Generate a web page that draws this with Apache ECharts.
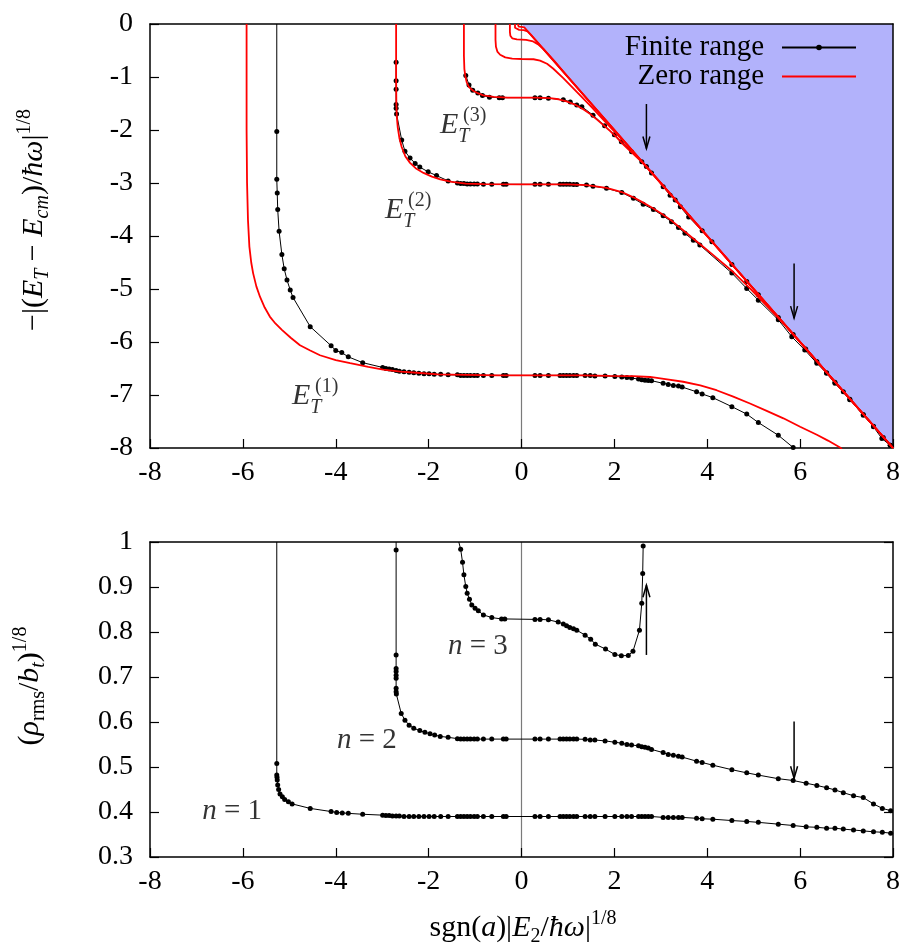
<!DOCTYPE html>
<html>
<head>
<meta charset="utf-8">
<script src="https://cdn.jsdelivr.net/npm/echarts@6.0.0/dist/echarts.min.js"></script>
<style>
  html, body { margin: 0; padding: 0; background: #fff; }
  #chart { width: 907px; height: 947px; }
</style>
</head>
<body>
<div id="chart"></div>
<script>
// ---------- axis ranges / ticks ----------
const xTicks = { min: -8, max: 8, step: 2 };
const energyTicks = { min: -8, max: 0, step: 1 };
const radiusTicks = { min: 0.3, max: 1.0, step: 0.1 };

// ---------- upper panel: -|(E_T - E_cm)/hw|^(1/8) ----------
// finite-range results (first point of n=1 sits on the upper frame edge)
const finiteEnergy1 = [
  [-5.27, 0], [-5.27, -2.03], [-5.27, -2.93], [-5.26, -3.19], [-5.25, -3.50], [-5.22, -3.91], [-5.16, -4.35],
  [-5.11, -4.62], [-5.05, -4.83], [-4.98, -5.02], [-4.92, -5.16], [-4.55, -5.71], [-4.10, -6.07], [-4.00, -6.16],
  [-3.87, -6.20], [-3.73, -6.28], [-3.42, -6.39], [-2.99, -6.48], [-2.92, -6.50], [-2.85, -6.51], [-2.78, -6.52],
  [-2.70, -6.54], [-2.63, -6.55], [-2.53, -6.56], [-2.42, -6.57], [-2.32, -6.58], [-2.21, -6.59], [-2.10, -6.60],
  [-1.99, -6.60], [-1.88, -6.61], [-1.74, -6.61], [-1.58, -6.62], [-1.38, -6.62], [-1.31, -6.63], [-1.24, -6.63],
  [-1.17, -6.63], [-1.10, -6.63], [-1.02, -6.63], [-0.95, -6.63], [-0.82, -6.63], [-0.64, -6.63], [-0.39, -6.63],
  [-0.33, -6.63], [0.29, -6.63], [0.40, -6.63], [0.58, -6.63], [0.83, -6.63], [0.90, -6.63], [0.97, -6.63],
  [1.04, -6.63], [1.12, -6.63], [1.19, -6.63], [1.37, -6.63], [1.48, -6.63], [1.58, -6.64], [1.80, -6.64],
  [2.01, -6.65], [2.16, -6.66], [2.27, -6.67], [2.37, -6.68], [2.52, -6.70], [2.59, -6.71], [2.66, -6.72],
  [2.73, -6.725], [2.80, -6.73], [3.05, -6.78], [3.16, -6.80], [3.27, -6.82], [3.38, -6.83], [3.46, -6.85],
  [3.77, -6.94], [3.89, -6.98], [4.12, -7.05], [4.53, -7.22], [4.85, -7.36], [5.10, -7.52], [5.53, -7.76],
  [5.85, -7.99]
];
const finiteEnergy2 = [
  [-2.70, -0.72], [-2.70, -1.07], [-2.70, -1.23], [-2.70, -1.52], [-2.70, -1.59], [-2.69, -1.70], [-2.58, -2.19],
  [-2.51, -2.40], [-2.40, -2.53], [-2.29, -2.63], [-2.19, -2.70], [-2.01, -2.79], [-1.83, -2.86], [-1.58, -2.96],
  [-1.38, -3.00], [-1.31, -3.01], [-1.24, -3.01], [-1.17, -3.02], [-1.10, -3.02], [-1.02, -3.02], [-0.95, -3.02],
  [-0.82, -3.025], [-0.64, -3.025], [-0.39, -3.025], [-0.33, -3.025], [0.29, -3.025], [0.40, -3.025],
  [0.58, -3.025], [0.83, -3.025], [0.90, -3.025], [0.97, -3.025], [1.04, -3.025], [1.12, -3.03], [1.19, -3.03],
  [1.40, -3.04], [1.54, -3.06], [1.83, -3.10], [2.16, -3.18], [2.41, -3.29], [2.62, -3.40], [2.84, -3.50],
  [3.05, -3.62], [3.23, -3.73], [3.38, -3.84], [3.52, -3.95], [3.70, -4.08], [3.84, -4.17], [4.53, -4.70],
  [4.85, -4.99], [5.10, -5.21], [5.53, -5.58], [5.82, -5.90], [6.10, -6.15], [6.36, -6.40], [6.57, -6.59],
  [6.75, -6.78], [7.07, -7.09], [7.36, -7.38], [7.58, -7.60], [7.76, -7.82], [7.94, -7.95]
];
const finiteEnergy3 = [
  [-1.20, -0.97], [-1.13, -1.15], [-1.05, -1.25], [-0.94, -1.30], [-0.84, -1.35], [-0.69, -1.38], [-0.48, -1.39],
  [-0.41, -1.39], [0.29, -1.39], [0.40, -1.39], [0.58, -1.40], [0.90, -1.43], [1.05, -1.47], [1.19, -1.53],
  [1.30, -1.56], [1.54, -1.72], [1.79, -1.92], [2.00, -2.09], [2.15, -2.22], [2.37, -2.41], [2.59, -2.60],
  [2.69, -2.69], [2.80, -2.81], [3.05, -3.07], [3.20, -3.23], [3.31, -3.32], [3.42, -3.45], [3.60, -3.64],
  [3.89, -3.90], [4.10, -4.11], [4.53, -4.54], [4.85, -4.86], [5.10, -5.11], [5.53, -5.54], [5.85, -5.86],
  [6.12, -6.13], [6.36, -6.37], [6.57, -6.58], [6.75, -6.76], [6.93, -6.94], [7.07, -7.08], [7.36, -7.37],
  [7.58, -7.59], [7.79, -7.80], [7.94, -7.95]
];

// zero-range results
const zeroEnergy1 = [
  [-5.92, 0], [-5.92, -2.0], [-5.91, -3.0], [-5.89, -3.7], [-5.86, -4.2], [-5.82, -4.5], [-5.78, -4.70],
  [-5.71, -4.95], [-5.63, -5.15], [-5.53, -5.35], [-5.42, -5.52], [-5.30, -5.65], [-5.16, -5.77], [-4.97, -5.92],
  [-4.77, -6.06], [-4.55, -6.16], [-4.34, -6.25], [-4.00, -6.34], [-3.69, -6.40], [-3.30, -6.47], [-2.98, -6.52],
  [-2.60, -6.56], [-2.26, -6.58], [-1.80, -6.61], [-1.20, -6.62], [-0.50, -6.63], [0.50, -6.63], [1.30, -6.63],
  [1.90, -6.64], [2.40, -6.645], [2.77, -6.66], [3.10, -6.70], [3.48, -6.75], [3.85, -6.82], [4.20, -6.91],
  [4.56, -7.03], [4.92, -7.16], [5.28, -7.30], [5.64, -7.44], [6.00, -7.60], [6.36, -7.75], [6.60, -7.86],
  [6.86, -7.99], [6.90, -8.02]
];
const zeroEnergy2 = [
  [-2.70, 0], [-2.70, -1.0], [-2.695, -1.5], [-2.685, -1.75], [-2.665, -1.95], [-2.63, -2.15], [-2.58, -2.32],
  [-2.50, -2.50], [-2.40, -2.62], [-2.28, -2.72], [-2.11, -2.81], [-1.93, -2.88], [-1.75, -2.93], [-1.50, -2.98],
  [-1.20, -3.01], [-0.82, -3.02], [0, -3.025], [1.0, -3.025], [1.40, -3.04], [1.83, -3.09], [2.16, -3.17],
  [2.41, -3.27], [2.62, -3.37], [2.84, -3.48], [3.05, -3.60], [3.23, -3.71], [3.52, -3.92], [3.84, -4.15],
  [4.13, -4.36], [4.56, -4.68], [4.92, -4.99], [5.28, -5.32], [5.64, -5.65], [5.85, -5.86], [6.10, -6.10],
  [8, -8]
];
const zeroEnergy3 = [
  [-1.24, 0], [-1.24, -0.6], [-1.23, -0.85], [-1.21, -0.98], [-1.18, -1.10], [-1.13, -1.19], [-1.04, -1.26],
  [-0.93, -1.31], [-0.82, -1.345], [-0.60, -1.375], [-0.30, -1.39], [0.30, -1.39], [0.61, -1.40], [0.80, -1.42],
  [0.97, -1.46], [1.15, -1.52], [1.33, -1.61], [1.48, -1.70], [1.62, -1.80], [1.77, -1.91], [1.91, -2.02],
  [2.05, -2.14], [2.19, -2.27], [2.33, -2.39], [2.48, -2.51], [2.60, -2.61], [2.75, -2.75], [8, -8]
];
const zeroEnergy4 = [
  [-0.56, 0], [-0.56, -0.30], [-0.55, -0.43], [-0.52, -0.52], [-0.46, -0.58], [-0.35, -0.63], [-0.20, -0.655],
  [0, -0.66], [0.26, -0.665], [0.40, -0.69], [0.55, -0.75], [0.68, -0.84], [0.90, -1.02], [1.19, -1.28],
  [1.50, -1.56], [1.80, -1.84], [2.10, -2.12], [2.40, -2.41], [8, -8]
];
const zeroEnergy5 = [
  [-0.25, 0], [-0.25, -0.15], [-0.24, -0.22], [-0.20, -0.27], [-0.10, -0.29], [0.10, -0.30], [0.25, -0.33],
  [0.35, -0.38], [0.47, -0.47], [0.70, -0.69], [1.00, -1.00], [8, -8]
];
const zeroEnergy6 = [
  [-0.14, 0], [-0.14, -0.07], [-0.12, -0.10], [-0.05, -0.11], [0.05, -0.115], [0.13, -0.14], [0.20, -0.20], [8, -8]
];
const zeroEnergy7 = [
  [-0.08, 0], [-0.08, -0.035], [-0.06, -0.05], [0, -0.055], [0.06, -0.065], [0.10, -0.10], [8, -8]
];

// threshold line bounding the shaded (continuum) region
const thresholdLine = [[0, 0], [8, -8]];

// ---------- lower panel: (rho_rms / b_t)^(1/8) ----------
const radius1 = [
  [-5.27, 1.0], [-5.27, 0.508], [-5.27, 0.482], [-5.265, 0.477], [-5.26, 0.471], [-5.25, 0.460], [-5.23, 0.450],
  [-5.20, 0.440], [-5.15, 0.434], [-5.10, 0.428], [-5.02, 0.423], [-4.94, 0.418], [-4.55, 0.408], [-4.10, 0.401],
  [-3.98, 0.399], [-3.86, 0.398], [-3.73, 0.397], [-3.42, 0.395], [-2.99, 0.393], [-2.92, 0.392], [-2.85, 0.392],
  [-2.78, 0.391], [-2.70, 0.391], [-2.63, 0.391], [-2.53, 0.390], [-2.42, 0.390], [-2.32, 0.390], [-2.21, 0.390],
  [-2.10, 0.390], [-1.99, 0.390], [-1.88, 0.390], [-1.74, 0.390], [-1.58, 0.390], [-1.38, 0.390], [-1.31, 0.390],
  [-1.24, 0.390], [-1.17, 0.390], [-1.10, 0.390], [-1.02, 0.390], [-0.95, 0.390], [-0.82, 0.390], [-0.64, 0.390],
  [-0.39, 0.390], [-0.33, 0.390], [0.29, 0.390], [0.40, 0.390], [0.58, 0.390], [0.83, 0.390], [0.90, 0.390],
  [0.97, 0.390], [1.04, 0.390], [1.12, 0.390], [1.19, 0.390], [1.37, 0.390], [1.48, 0.390], [1.58, 0.390],
  [1.80, 0.390], [2.01, 0.390], [2.16, 0.390], [2.27, 0.390], [2.37, 0.390], [2.52, 0.390], [2.59, 0.390],
  [2.66, 0.390], [2.73, 0.390], [2.80, 0.390], [3.05, 0.388], [3.16, 0.388], [3.27, 0.388], [3.38, 0.388],
  [3.46, 0.388], [3.77, 0.386], [3.89, 0.385], [4.12, 0.384], [4.53, 0.381], [4.85, 0.379], [5.10, 0.377],
  [5.53, 0.373], [5.85, 0.370], [6.13, 0.367], [6.36, 0.366], [6.57, 0.364], [6.75, 0.364], [6.93, 0.362],
  [7.15, 0.360], [7.36, 0.358], [7.58, 0.356], [7.77, 0.355], [7.95, 0.353]
];
const radius2 = [
  [-2.70, 1.0], [-2.70, 0.982], [-2.70, 0.749], [-2.70, 0.719], [-2.70, 0.712], [-2.70, 0.704], [-2.70, 0.697],
  [-2.70, 0.675], [-2.70, 0.667], [-2.695, 0.662], [-2.59, 0.619], [-2.51, 0.604], [-2.42, 0.593], [-2.32, 0.586],
  [-2.19, 0.581], [-2.08, 0.577], [-1.97, 0.574], [-1.87, 0.571], [-1.75, 0.568], [-1.58, 0.566], [-1.38, 0.563],
  [-1.31, 0.562], [-1.24, 0.562], [-1.17, 0.562], [-1.10, 0.562], [-1.02, 0.562], [-0.95, 0.562], [-0.82, 0.562],
  [-0.64, 0.562], [-0.39, 0.562], [-0.33, 0.562], [0.29, 0.562], [0.40, 0.562], [0.58, 0.562], [0.83, 0.562],
  [0.90, 0.562], [0.97, 0.562], [1.04, 0.562], [1.12, 0.562], [1.19, 0.562], [1.37, 0.5615], [1.48, 0.560],
  [1.58, 0.560], [1.80, 0.558], [2.01, 0.555], [2.16, 0.553], [2.27, 0.550], [2.37, 0.549], [2.52, 0.547],
  [2.59, 0.545], [2.66, 0.544], [2.73, 0.542], [2.80, 0.539], [3.05, 0.532], [3.16, 0.528], [3.27, 0.526],
  [3.38, 0.524], [3.46, 0.522], [3.77, 0.513], [3.89, 0.510], [4.12, 0.504], [4.53, 0.494], [4.85, 0.487],
  [5.10, 0.482], [5.53, 0.474], [5.85, 0.470], [6.13, 0.464], [6.36, 0.459], [6.57, 0.454], [6.75, 0.449],
  [6.93, 0.443], [7.15, 0.436], [7.36, 0.432], [7.58, 0.418], [7.77, 0.408], [7.95, 0.403]
];
const radius3 = [
  [-1.35, 1.0], [-1.31, 0.984], [-1.27, 0.955], [-1.24, 0.927], [-1.20, 0.901], [-1.17, 0.886], [-1.12, 0.873],
  [-1.07, 0.860], [-1.00, 0.853], [-0.93, 0.847], [-0.82, 0.838], [-0.64, 0.832], [-0.43, 0.829], [-0.36, 0.829],
  [0.29, 0.828], [0.40, 0.828], [0.58, 0.827], [0.79, 0.822], [0.90, 0.818], [0.97, 0.814], [1.04, 0.810],
  [1.12, 0.807], [1.19, 0.804], [1.37, 0.793], [1.49, 0.784], [1.59, 0.773], [1.81, 0.762], [2.01, 0.750],
  [2.15, 0.747], [2.30, 0.748], [2.40, 0.757], [2.54, 0.804], [2.59, 0.864], [2.61, 0.930], [2.62, 0.991]
];

// arrows: [x, tail value, head value]
const energyArrows = [[2.69, -1.51, -2.35], [5.87, -4.52, -5.55]];
const radiusArrows = [[2.69, 0.749, 0.904], [5.87, 0.601, 0.475]];

// state labels: anchor of the letter E, and the level index
const energyTagAnchor = [[-1.755, -1.906], [-2.939, -3.509], [-4.942, -7.019]];
const energyTagLevel = ['(3)', '(2)', '(1)'];
const radiusTagCenter = [[-6.23, 0.402], [-3.33, 0.560], [-0.94, 0.769]];
const radiusTagLevel = ['1', '2', '3'];

// ---------- styling ----------
const FONT = '"Liberation Serif", "Times New Roman", serif';
const RED = '#ff0000';
const SHADE = '#b2b2fb';
const TICK_FONT = 28;

// the first sample of a branch lies on the frame edge: draw the line there, not a marker
function openEnd(points) {
  return points.map((p, i) => (i === 0 ? { value: p, symbol: 'none' } : p));
}

const tickLabel = {
  show: true, color: '#000', fontFamily: FONT, fontSize: TICK_FONT,
  showMinLabel: true, showMaxLabel: true, hideOverlap: false
};

function xAxisPair(grid) {
  const base = {
    type: 'value', gridIndex: grid, min: xTicks.min, max: xTicks.max, interval: xTicks.step, z: 2,
    splitLine: { show: false }
  };
  return [
    Object.assign({}, base, {
      position: 'bottom',
      axisLine: { show: true, onZero: false, lineStyle: { color: '#000', width: 1.5 } },
      axisTick: { show: true, inside: true, length: 9, lineStyle: { color: '#000', width: 1.2 } },
      axisLabel: Object.assign({ margin: 11 }, tickLabel)
    }),
    Object.assign({}, base, {
      position: 'top',
      axisLine: { show: true, onZero: false, lineStyle: { color: '#000', width: 1.5 } },
      axisTick: { show: false }, axisLabel: { show: false }
    })
  ];
}

function yAxisPair(grid, ticks, rightTicks) {
  const base = {
    type: 'value', gridIndex: grid, min: ticks.min, max: ticks.max, interval: ticks.step, z: 2,
    splitLine: { show: false }
  };
  return [
    Object.assign({}, base, {
      position: 'left',
      axisLine: { show: true, onZero: false, lineStyle: { color: '#000', width: 1.5 } },
      axisTick: { show: true, inside: true, length: 9, lineStyle: { color: '#000', width: 1.2 } },
      axisLabel: Object.assign({ margin: 17 }, tickLabel)
    }),
    Object.assign({}, base, {
      position: 'right',
      axisLine: { show: true, onZero: false, lineStyle: { color: '#000', width: 1.5 } },
      axisTick: { show: rightTicks, inside: true, length: 9, lineStyle: { color: '#000', width: 1.2 } },
      axisLabel: { show: false }
    })
  ];
}

const zeroMark = {
  silent: true, symbol: 'none', z: 2,
  label: { show: false },
  lineStyle: { color: '#7a7a7a', width: 1.2, type: 'solid' },
  data: [{ xAxis: 0 }]
};

function finite(points, axis, withZeroMark) {
  const s = {
    type: 'line', name: 'Finite range', xAxisIndex: axis, yAxisIndex: axis,
    data: points, symbol: 'circle', symbolSize: 5, showAllSymbol: true,
    lineStyle: { color: '#000', width: 1 }, itemStyle: { color: '#000' },
    z: 3, silent: true, animation: false
  };
  if (withZeroMark) s.markLine = zeroMark;
  return s;
}

function zeroRange(points, withZeroMark) {
  const s = {
    type: 'line', name: 'Zero range', xAxisIndex: 0, yAxisIndex: 0,
    data: points, symbol: 'none',
    lineStyle: { color: RED, width: 1.8 }, itemStyle: { color: RED },
    z: 4, silent: true, animation: false
  };
  if (withZeroMark) s.markLine = zeroMark;
  return s;
}

function drawArrow(params, api) {
  const from = api.coord([api.value(0), api.value(1)]);
  const to = api.coord([api.value(0), api.value(2)]);
  const dir = to[1] > from[1] ? 1 : -1;
  const stroke = { stroke: '#000', lineWidth: 1.5, fill: null };
  return {
    type: 'group',
    children: [
      { type: 'line', shape: { x1: from[0], y1: from[1], x2: to[0], y2: to[1] }, style: stroke },
      {
        type: 'polyline',
        shape: { points: [[to[0] - 3.5, to[1] - dir * 12], [to[0], to[1]], [to[0] + 3.5, to[1] - dir * 12]] },
        style: stroke
      }
    ]
  };
}

function arrowSeries(data, axis) {
  return {
    type: 'custom', xAxisIndex: axis, yAxisIndex: axis, data: data,
    encode: { x: 0, y: [1, 2] }, renderItem: drawArrow, z: 6, silent: true, animation: false
  };
}

// rich-text pieces for the axis titles (zrender text styles)
const titleRich = {
  n: { fontFamily: FONT, fontSize: 30, lineHeight: 38, fill: '#000', verticalAlign: 'middle' },
  i: { fontFamily: FONT, fontSize: 30, lineHeight: 38, fill: '#000', fontStyle: 'italic', verticalAlign: 'middle' },
  sb: { fontFamily: FONT, fontSize: 20, lineHeight: 20, fill: '#000', verticalAlign: 'bottom' },
  sbi: { fontFamily: FONT, fontSize: 20, lineHeight: 20, fill: '#000', fontStyle: 'italic', verticalAlign: 'bottom' },
  sp: { fontFamily: FONT, fontSize: 20, lineHeight: 20, fill: '#000', verticalAlign: 'top' }
};

const option = {
  backgroundColor: '#fff',
  animation: false,
  textStyle: { fontFamily: FONT, color: '#000' },
  grid: [
    { left: 150, top: 24, width: 743, height: 424 },
    { left: 150, top: 542, width: 743, height: 315 }
  ],
  xAxis: [...xAxisPair(0), ...xAxisPair(1)],
  yAxis: [...yAxisPair(0, energyTicks, false), ...yAxisPair(1, radiusTicks, true)],
  legend: [
    {
      data: ['Finite range'], right: 50, top: 33, orient: 'vertical', align: 'right',
      itemWidth: 74, itemHeight: 7, padding: 0, selectedMode: false,
      textStyle: { fontFamily: FONT, fontSize: 29, color: '#000', padding: [0, 13, 0, 0] }
    },
    {
      data: ['Zero range'], right: 50, top: 62, orient: 'vertical', align: 'right',
      itemWidth: 74, itemHeight: 7, padding: 0, selectedMode: false,
      itemStyle: { color: 'rgba(0,0,0,0)', borderWidth: 0 },
      textStyle: { fontFamily: FONT, fontSize: 29, color: '#000', padding: [0, 13, 0, 0] }
    }
  ],
  graphic: [
    {
      type: 'text', x: 34, y: 220, rotation: Math.PI / 2, silent: true,
      style: {
        text: '{n|−|(}{i|E}{sbi|T}{n| − }{i|E}{sbi|cm}{n|)/}{i|ħω}{n||}{sp|1/8}',
        rich: titleRich, align: 'center', verticalAlign: 'middle'
      }
    },
    {
      type: 'text', x: 30, y: 686, rotation: Math.PI / 2, silent: true,
      style: {
        text: '{n|(}{i|ρ}{sb|rms}{n|/}{i|b}{sbi|t}{n|)}{sp|1/8}',
        rich: titleRich, align: 'center', verticalAlign: 'middle'
      }
    },
    {
      type: 'text', x: 523, y: 928, silent: true,
      style: {
        text: '{n|sgn(}{i|a}{n|)|}{i|E}{sb|2}{n|/}{i|ħω}{n||}{sp|1/8}',
        rich: titleRich, align: 'center', verticalAlign: 'middle'
      }
    }
  ],
  series: [
    // shaded continuum region above the threshold
    {
      type: 'line', xAxisIndex: 0, yAxisIndex: 0, data: thresholdLine, symbol: 'none',
      lineStyle: { width: 0, opacity: 0 },
      areaStyle: { color: SHADE, opacity: 1, origin: 'end' },
      z: 1, silent: true, animation: false
    },
    finite(openEnd(finiteEnergy1), 0, false),
    finite(finiteEnergy2, 0, false),
    finite(finiteEnergy3, 0, false),
    zeroRange(zeroEnergy1, true),
    zeroRange(zeroEnergy2, false),
    zeroRange(zeroEnergy3, false),
    zeroRange(zeroEnergy4, false),
    zeroRange(zeroEnergy5, false),
    zeroRange(zeroEnergy6, false),
    zeroRange(zeroEnergy7, false),
    finite(openEnd(radius1), 2, true),
    finite(openEnd(radius2), 2, false),
    finite(openEnd(radius3), 2, false),
    arrowSeries(energyArrows, 0),
    arrowSeries(radiusArrows, 2),
    // E_T with subscript T
    {
      type: 'scatter', xAxisIndex: 0, yAxisIndex: 0, symbolSize: 0, silent: true, z: 7, animation: false,
      data: energyTagAnchor.map((p, i) => ({ value: p, name: energyTagLevel[i] })),
      label: {
        show: true, position: 'inside', align: 'left', verticalAlign: 'middle',
        formatter: '{e|E}{t|T}',
        rich: {
          e: { fontFamily: FONT, fontStyle: 'italic', fontSize: 30, lineHeight: 44, color: '#000', verticalAlign: 'middle' },
          t: { fontFamily: FONT, fontStyle: 'italic', fontSize: 20, lineHeight: 20, color: '#000', verticalAlign: 'bottom' }
        }
      }
    },
    // superscript level index
    {
      type: 'scatter', xAxisIndex: 0, yAxisIndex: 0, symbolSize: 0, silent: true, z: 7, animation: false,
      data: energyTagAnchor.map((p, i) => ({ value: p, name: energyTagLevel[i] })),
      label: {
        show: true, position: 'inside', align: 'left', verticalAlign: 'middle', offset: [23, -9],
        formatter: (p) => p.name, fontFamily: FONT, fontSize: 20, color: '#000'
      }
    },
    // n = 1, 2, 3
    {
      type: 'scatter', xAxisIndex: 2, yAxisIndex: 2, symbolSize: 0, silent: true, z: 7, animation: false,
      data: radiusTagCenter.map((p, i) => ({ value: p, name: radiusTagLevel[i] })),
      label: {
        show: true, position: 'inside', align: 'center', verticalAlign: 'middle',
        formatter: (p) => '{i|n}{r| = ' + p.name + '}',
        rich: {
          i: { fontFamily: FONT, fontStyle: 'italic', fontSize: 29, color: '#000' },
          r: { fontFamily: FONT, fontSize: 29, color: '#000' }
        }
      }
    }
  ]
};

const chart = echarts.init(document.getElementById('chart'), null, { renderer: 'canvas' });
chart.setOption(option);
</script>
</body>
</html>
